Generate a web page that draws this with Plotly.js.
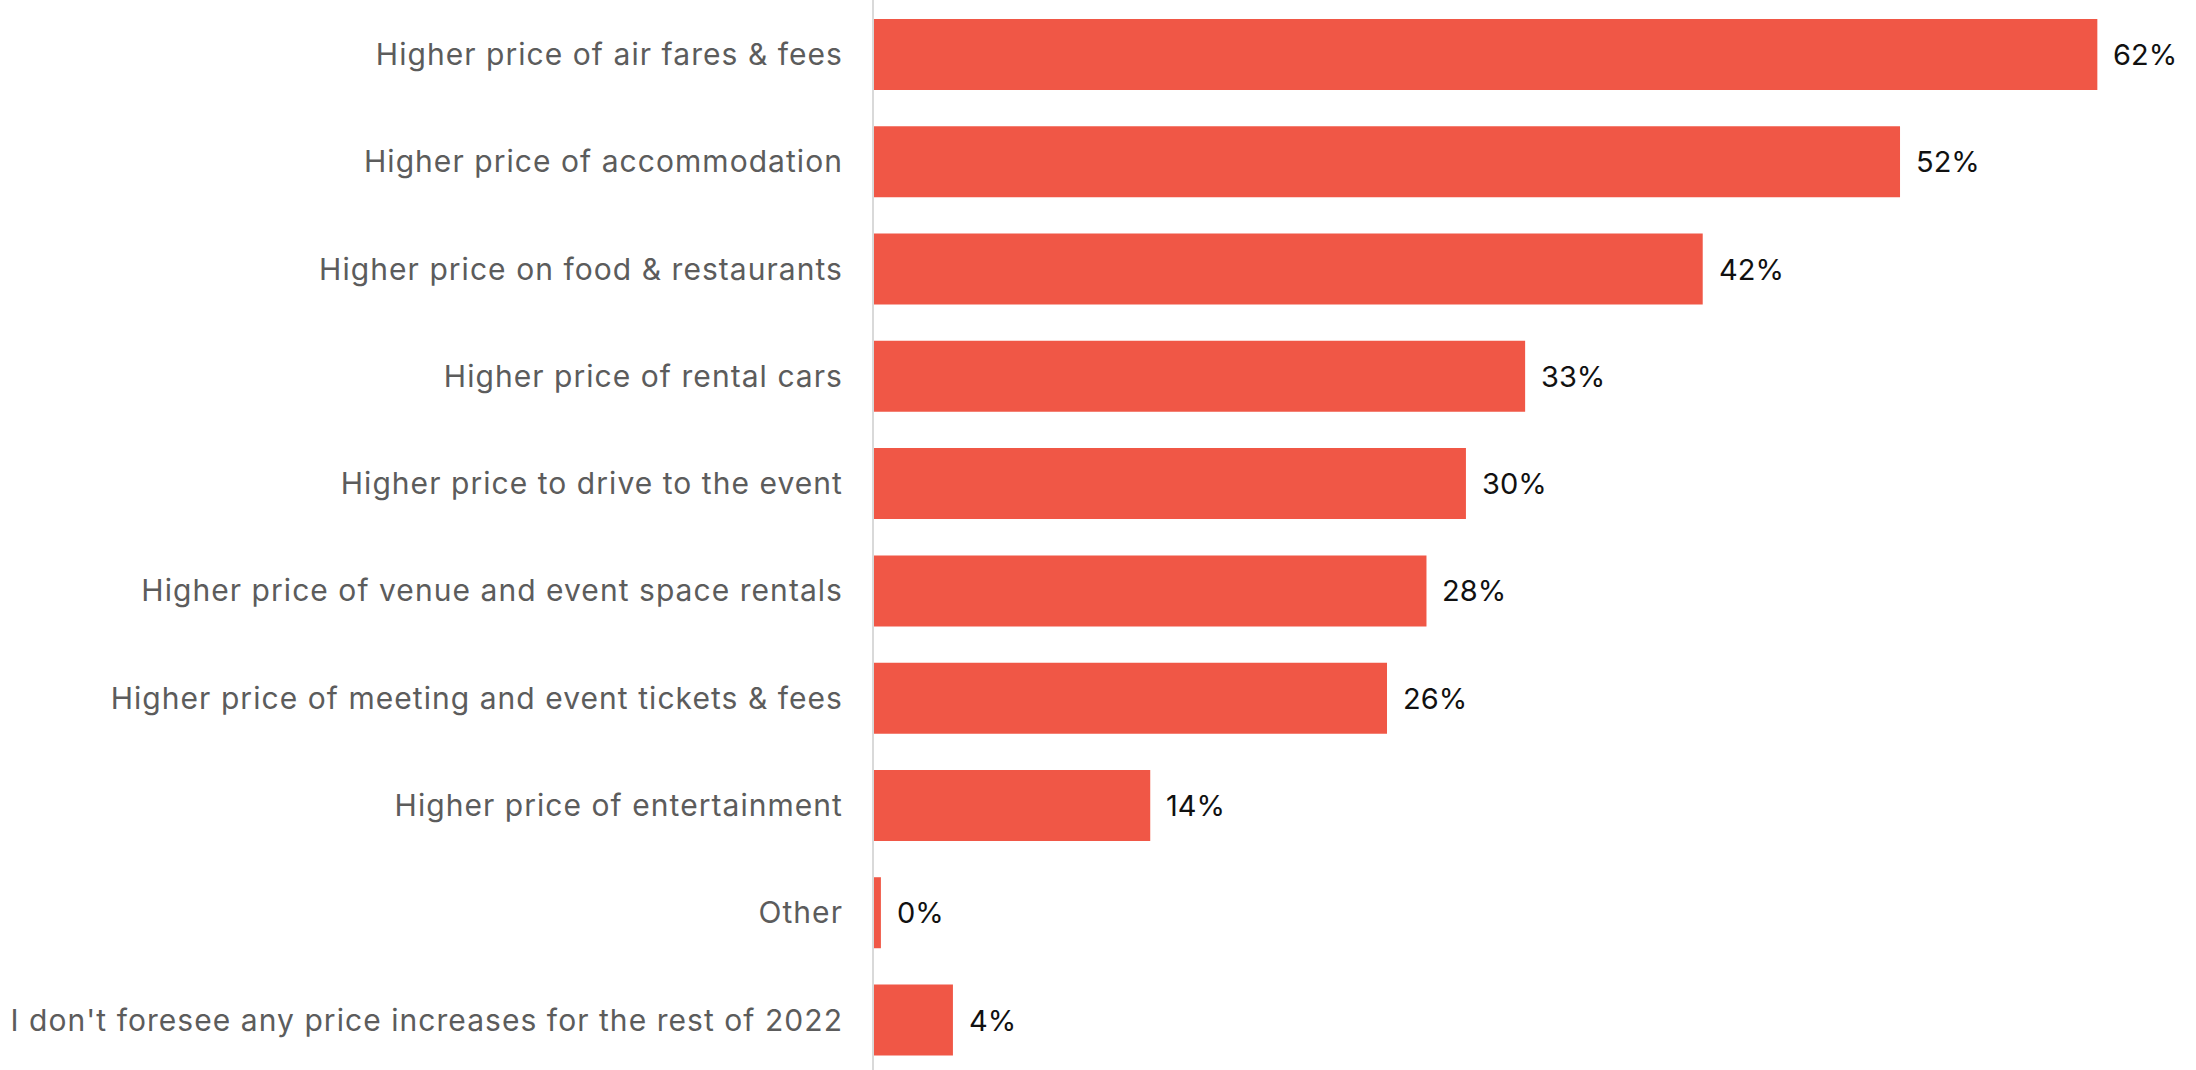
<!DOCTYPE html>
<html>
<head>
<meta charset="utf-8">
<script src="https://cdn.plot.ly/plotly-3.0.1.min.js"></script>
<style>
html,body{margin:0;padding:0;background:#fff;}
#chart{width:2196px;height:1070px;}
#chart .ytick text{letter-spacing:1.05px;}
</style>
</head>
<body>
<div id="chart"></div>
<script>
const categories = [
  "Higher price of air fares & fees",
  "Higher price of accommodation",
  "Higher price on food & restaurants",
  "Higher price of rental cars",
  "Higher price to drive to the event",
  "Higher price of venue and event space rentals",
  "Higher price of meeting and event tickets & fees",
  "Higher price of entertainment",
  "Other",
  "I don't foresee any price increases for the rest of 2022"
];
const percentValues = [62, 52, 42, 33, 30, 28, 26, 14, 0.35, 4];

const barColor = "#F05746";
const fontFamily = "Inter, 'Open Sans', sans-serif";

const trace = {
  type: "bar",
  orientation: "h",
  x: percentValues,
  y: categories,
  marker: {color: barColor},
  hoverinfo: "skip"
};

const annotations = categories.map((c, i) => ({
  x: percentValues[i],
  y: c,
  xref: "x",
  yref: "y",
  text: Math.round(percentValues[i]) + "%",
  showarrow: false,
  xanchor: "left",
  yanchor: "middle",
  xshift: 14,
  font: {family: fontFamily, size: 29, color: "#111111"}
}));

const layout = {
  width: 2196,
  height: 1070,
  margin: {l: 874, r: 0, t: 0, b: 0, pad: 0},
  paper_bgcolor: "#ffffff",
  plot_bgcolor: "#ffffff",
  bargap: 0.338,
  showlegend: false,
  xaxis: {
    range: [0, 67],
    showgrid: false,
    zeroline: false,
    showline: false,
    showticklabels: false,
    ticks: ""
  },
  yaxis: {
    range: [9.466, -0.508],
    showgrid: false,
    zeroline: false,
    showline: true,
    linecolor: "#d9d9d9",
    linewidth: 2,
    ticks: "",
    ticklabelstandoff: 23,
    tickfont: {family: fontFamily, size: 30, color: "#5c5c5c"}
  },
  annotations: annotations
};

Plotly.newPlot("chart", [trace], layout, {displayModeBar: false, staticPlot: true});
</script>
</body>
</html>
